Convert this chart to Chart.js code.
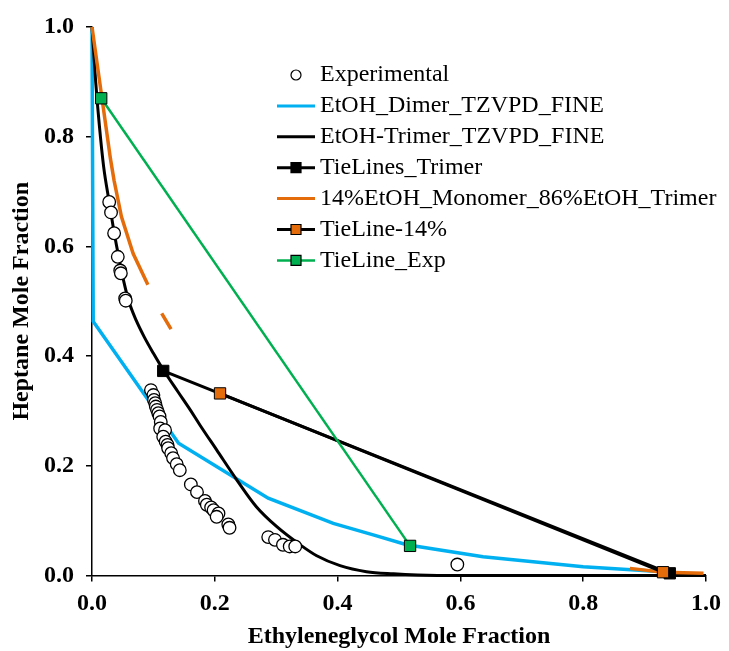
<!DOCTYPE html>
<html>
<head>
<meta charset="utf-8">
<script src="https://cdn.jsdelivr.net/npm/chart.js@4.4.1/dist/chart.umd.min.js"></script>
<style>
  html, body { margin: 0; padding: 0; background: #fff; }
  #wrap { width: 729px; height: 651px; }
</style>
</head>
<body>
<div id="wrap"><canvas id="chart" width="729" height="651"></canvas></div>
<script>
// Experimental LLE points
const EXP_X = [0.028, 0.031, 0.036, 0.042, 0.046, 0.047, 0.054, 0.055,
  0.096, 0.100, 0.101, 0.103, 0.104, 0.106, 0.108, 0.110, 0.112, 0.111, 0.119, 0.116,
  0.120, 0.123, 0.124, 0.129, 0.132, 0.138, 0.143, 0.161, 0.171, 0.184, 0.187, 0.194,
  0.198, 0.206, 0.203, 0.222, 0.224, 0.287, 0.298, 0.311, 0.322, 0.331, 0.595];
const EXP_Y = [0.681, 0.662, 0.624, 0.581, 0.556, 0.551, 0.505, 0.501,
  0.338, 0.329, 0.320, 0.314, 0.308, 0.302, 0.296, 0.290, 0.280, 0.268, 0.265, 0.253,
  0.244, 0.238, 0.232, 0.223, 0.214, 0.203, 0.192, 0.166, 0.152, 0.136, 0.129, 0.124,
  0.119, 0.113, 0.107, 0.093, 0.087, 0.070, 0.065, 0.056, 0.053, 0.053, 0.020];

// EtOH_Dimer_TZVPD_FINE
const DIMER_X = [0.000, 0.002, 0.141, 0.287, 0.393, 0.458, 0.5125, 0.637, 0.800, 0.930];
const DIMER_Y = [1.000, 0.463, 0.241, 0.141, 0.095, 0.074, 0.056, 0.034, 0.016, 0.007];

// EtOH-Trimer_TZVPD_FINE
const TRIMER_X = [0.000, 0.006, 0.012, 0.019, 0.028, 0.036, 0.044, 0.052, 0.060, 0.072, 0.085,
  0.100, 0.116, 0.140, 0.160, 0.176, 0.203, 0.236, 0.268, 0.301, 0.339, 0.366, 0.404, 0.447,
  0.491, 0.530, 0.600, 1.000];
const TRIMER_Y = [1.000, 0.900, 0.820, 0.745, 0.681, 0.626, 0.578, 0.535, 0.500, 0.465, 0.435,
  0.405, 0.375, 0.335, 0.302, 0.274, 0.229, 0.174, 0.125, 0.089, 0.056, 0.036, 0.018, 0.007,
  0.003, 0.001, 0.000, 0.000];

// TieLines_Trimer
const TIE_TRIMER_X = [0.116, 0.941];
const TIE_TRIMER_Y = [0.373, 0.004];

// 14%EtOH_Monomer_86%EtOH_Trimer (broken curve, null = gap)
const MIX_X = [0.000, 0.010, 0.020, 0.030, 0.036, 0.048, 0.067, 0.091, null, 0.1135, 0.1287, null, 0.876, 0.930, 0.996];
const MIX_Y = [1.000, 0.920, 0.840, 0.760, 0.720, 0.654, 0.587, 0.530, null, 0.478, 0.449, null, 0.013, 0.006, 0.004];

// TieLine-14%
const TIE_14_X = [0.2085, 0.930];
const TIE_14_Y = [0.332, 0.006];

// TieLine_Exp
const TIE_EXP_X = [0.015, 0.518];
const TIE_EXP_Y = [0.870, 0.054];

const TICK_VALUES = [0, 0.2, 0.4, 0.6, 0.8, 1.0];

const BLUE = "#00b0f0";
const ORANGE = "#e46c0a";
const GREEN = "#00b050";
const SERIF = "'Liberation Serif', 'Times New Roman', serif";

function pts(xs, ys) {
  return xs.map((x, i) => ({ x: x, y: ys[i] }));
}

Chart.defaults.font.family = SERIF;
Chart.defaults.color = "#000";

const datasets = [
  {
    label: "Experimental", data: pts(EXP_X, EXP_Y), showLine: false, order: 0,
    pointStyle: "circle", pointRadius: 6.3, pointBackgroundColor: "#fff",
    pointBorderColor: "#000", pointBorderWidth: 1.3,
  },
  {
    label: "EtOH_Dimer_TZVPD_FINE", data: pts(DIMER_X, DIMER_Y), showLine: true, order: 6,
    borderColor: BLUE, borderWidth: 3.5, pointRadius: 0,
  },
  {
    label: "EtOH-Trimer_TZVPD_FINE", data: pts(TRIMER_X, TRIMER_Y), showLine: true, order: 5,
    borderColor: "#000", borderWidth: 3, pointRadius: 0, cubicInterpolationMode: "monotone",
  },
  {
    label: "TieLines_Trimer", data: pts(TIE_TRIMER_X, TIE_TRIMER_Y), showLine: true, order: 3,
    borderColor: "#000", borderWidth: 3, pointStyle: "rect", pointRadius: 8,
    pointBackgroundColor: "#000", pointBorderColor: "#000", pointBorderWidth: 1,
  },
  {
    label: "14%EtOH_Monomer_86%EtOH_Trimer", data: pts(MIX_X, MIX_Y), showLine: true, order: 4,
    borderColor: ORANGE, borderWidth: 3.5, pointRadius: 0, spanGaps: false,
  },
  {
    label: "TieLine-14%", data: pts(TIE_14_X, TIE_14_Y), showLine: true, order: 2,
    borderColor: "#000", borderWidth: 3, pointStyle: "rect", pointRadius: 8,
    pointBackgroundColor: ORANGE, pointBorderColor: "#000", pointBorderWidth: 1,
  },
  {
    label: "TieLine_Exp", data: pts(TIE_EXP_X, TIE_EXP_Y), showLine: true, order: 1,
    borderColor: GREEN, borderWidth: 2.5, pointStyle: "rect", pointRadius: 8,
    pointBackgroundColor: GREEN, pointBorderColor: "#000", pointBorderWidth: 1,
  },
];
datasets.forEach((d) => { d.clip = false; });

// legend drawn inside the plot, like the original
const insideLegend = {
  id: "insideLegend",
  afterDraw(chart) {
    const ctx = chart.ctx;
    const x0 = 277, x1 = 315, xm = 296, textX = 320;
    let y = 75;
    ctx.save();
    ctx.font = "24px " + SERIF;
    ctx.textBaseline = "middle";
    ctx.textAlign = "left";
    chart.data.datasets.forEach((d) => {
      if (d.showLine) {
        ctx.strokeStyle = d.borderColor;
        ctx.lineWidth = Math.min(d.borderWidth, 3);
        ctx.beginPath();
        ctx.moveTo(x0, y);
        ctx.lineTo(x1, y);
        ctx.stroke();
      }
      if (d.pointRadius > 0) {
        ctx.fillStyle = d.pointBackgroundColor;
        ctx.strokeStyle = d.pointBorderColor;
        ctx.lineWidth = 1.2;
        ctx.beginPath();
        if (d.pointStyle === "circle") {
          ctx.arc(xm, y, 5, 0, Math.PI * 2);
        } else {
          ctx.rect(xm - 5, y - 5, 10, 10);
        }
        ctx.fill();
        ctx.stroke();
      }
      ctx.fillStyle = "#000";
      ctx.fillText(d.label, textX, y);
      y += 30.9;
    });
    ctx.restore();
  },
};

const axisFont = { family: SERIF, size: 24, weight: "bold" };

new Chart(document.getElementById("chart"), {
  type: "scatter",
  data: { datasets },
  options: {
    responsive: false,
    animation: false,
    layout: { padding: { top: 27, right: 23, bottom: 0, left: 0 } },
    plugins: { legend: { display: false }, tooltip: { enabled: false } },
    scales: {
      x: {
        type: "linear", min: 0, max: 1,
        afterFit: (s) => { s.height = 75.5; },
        afterBuildTicks: (s) => { s.ticks = TICK_VALUES.map((v) => ({ value: v })); },
        ticks: { font: axisFont, color: "#000", padding: 8, callback: (v) => v.toFixed(1) },
        grid: { drawOnChartArea: false, color: "#000", tickLength: 6, lineWidth: 1.5 },
        border: { color: "#000", width: 1.5 },
        title: { display: true, text: "Ethyleneglycol Mole Fraction", font: axisFont, color: "#000", padding: { top: 1, bottom: 0 } },
      },
      y: {
        type: "linear", min: 0, max: 1,
        afterFit: (s) => { s.width = 92; },
        afterBuildTicks: (s) => { s.ticks = TICK_VALUES.map((v) => ({ value: v })); },
        ticks: { font: axisFont, color: "#000", padding: 12, callback: (v) => v.toFixed(1) },
        grid: { drawOnChartArea: false, color: "#000", tickLength: 6, lineWidth: 1.5 },
        border: { color: "#000", width: 1.5 },
        title: { display: true, text: "Heptane Mole Fraction", font: axisFont, color: "#000", padding: { top: 7, bottom: 0 } },
      },
    },
  },
  plugins: [insideLegend],
});
</script>
</body>
</html>
